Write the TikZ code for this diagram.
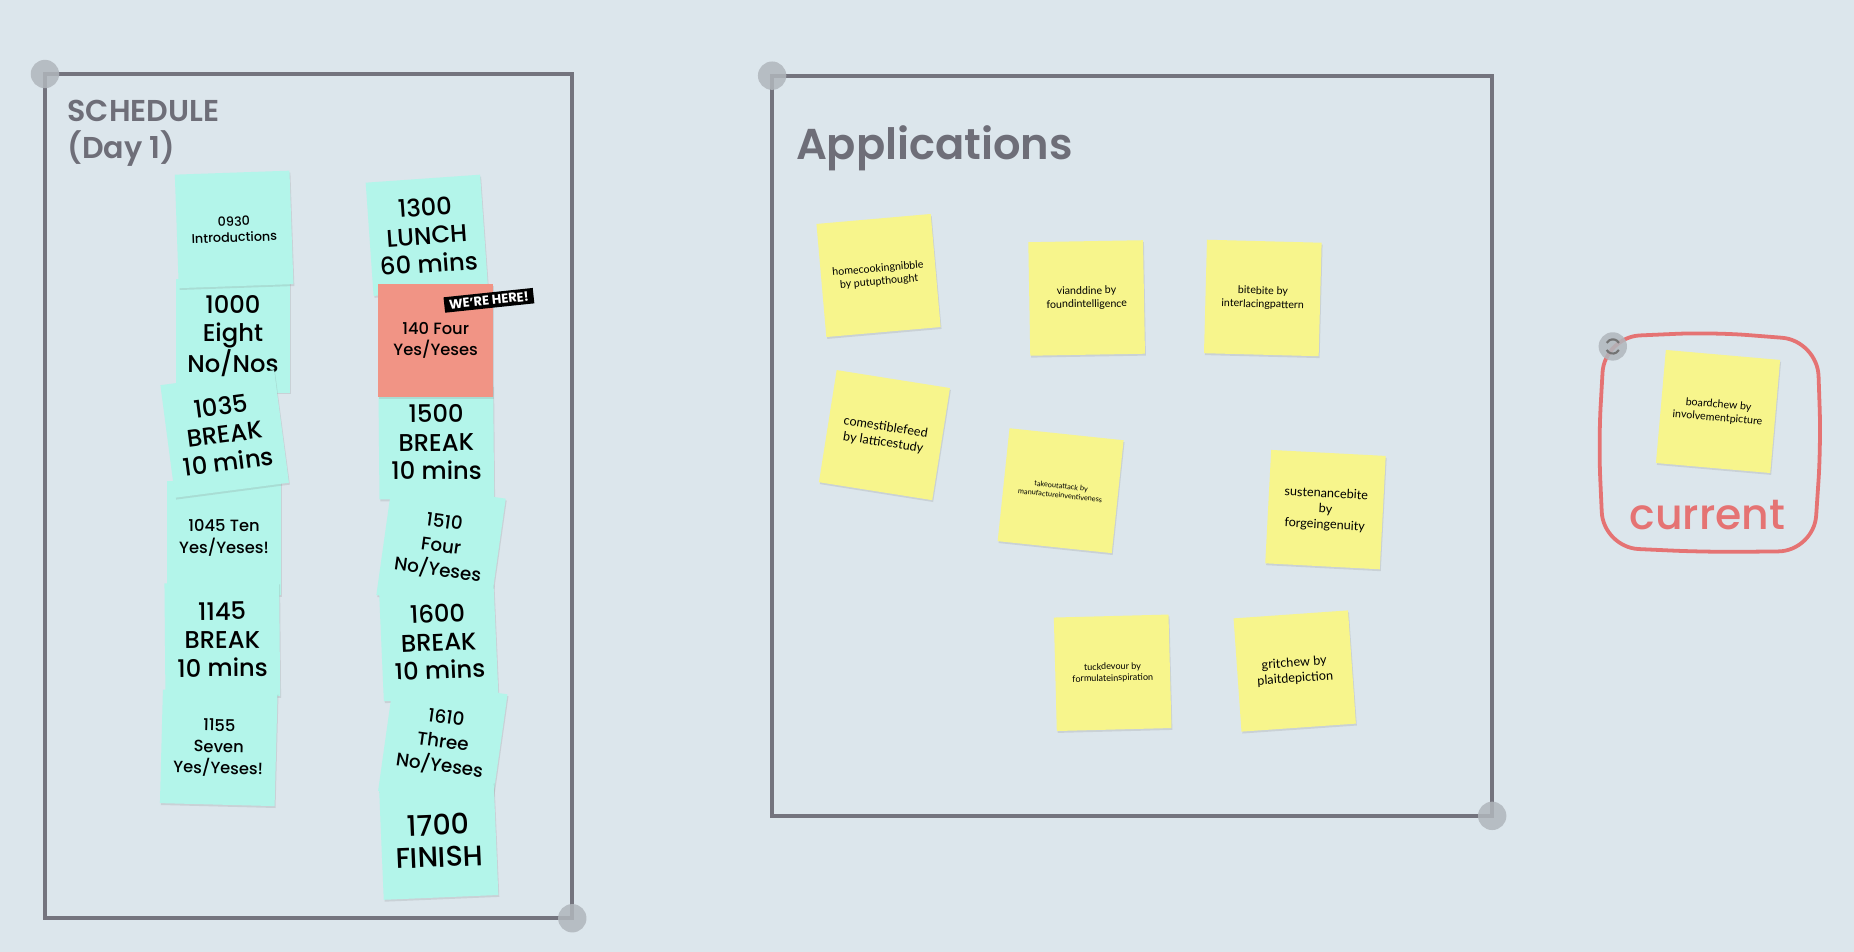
\documentclass[tikz,border=0pt]{standalone}
\usepackage{fontspec}
\setmainfont{Poppins}
\newfontfamily\headfont{Poppins Medium}
\newfontfamily\titlefont{Poppins SemiBold}
\newfontfamily\appfont{Lato}
\usepackage{xcolor}
\usetikzlibrary{shadows}
\definecolor{boardbg}{RGB}{220,230,236}
\definecolor{framegray}{RGB}{116,116,126}
\definecolor{handlegray}{RGB}{176,182,188}
\definecolor{titlegray}{RGB}{110,110,120}
\definecolor{mint}{RGB}{179,245,234}
\definecolor{salmon}{RGB}{241,148,133}
\definecolor{sticky}{RGB}{247,245,140}
\definecolor{currentred}{RGB}{229,115,115}

\begin{document}
\begin{tikzpicture}[x=1pt, y=-1pt,
  card/.style={minimum width=97pt, minimum height=96pt, inner sep=0pt, align=center,
    drop shadow={shadow xshift=0.8pt, shadow yshift=-1.6pt, opacity=0.2}},
  sched/.style={card, fill=mint},
  app/.style={card, fill=sticky},
  bigtxt/.style={font=\headfont\fontsize{20.5}{24}\selectfont},
  hugetxt/.style={font=\headfont\fontsize{24}{27}\selectfont},
  tilttxt/.style={font=\headfont\fontsize{15.5}{20.5}\selectfont},
  midtxt/.style={font=\headfont\fontsize{13.8}{18}\selectfont},
  smalltxt/.style={font=\headfont\fontsize{10.8}{13.5}\selectfont},
  appsmall/.style={font=\appfont\fontsize{9}{11.2}\selectfont},
  appmid/.style={font=\appfont\fontsize{10.7}{13.2}\selectfont},
  apptiny/.style={font=\appfont\fontsize{6.2}{7.8}\selectfont},
  appseven/.style={font=\appfont\fontsize{7.7}{9.6}\selectfont},
  handle/.style={fill=handlegray, opacity=0.85}]

  % Board
  \fill[boardbg] (0,0) rectangle (1568,805);
  \useasboundingbox (0,0) rectangle (1568,805);

  % Frames
  \draw[framegray, line width=3.2pt] (38,62.6) rectangle (484,776.6);
  \draw[framegray, line width=3.2pt] (653,64) rectangle (1262,690);
  \fill[handle] (38,62.6) circle[radius=12pt];
  \fill[handle] (484,776.6) circle[radius=12pt];
  \fill[handle] (653,64) circle[radius=12pt];
  \fill[handle] (1262,690) circle[radius=12pt];

  % Titles
  \node[anchor=base west, inner sep=0pt, text=titlegray, font=\titlefont\fontsize{25.5}{31}\selectfont]
    (schedtitle) at (57,103) {SCHEDULE};
  \node[anchor=base west, inner sep=0pt, text=titlegray, font=\titlefont\fontsize{25.5}{31}\selectfont]
    (daytitle) at (57,134) {(Day 1)};
  \node[anchor=base west, inner sep=0pt, text=titlegray, font=\titlefont\fontsize{36.5}{44}\selectfont]
    (apptitle) at (673,135) {Applications};

  % Schedule, left column
  \node[sched, bigtxt] (n1000) at (197,284) {1000\\Eight\\No/Nos};
  \node[sched, smalltxt, rotate=2] (n0930) at (198,194) {0930\\Introductions};
  \node[sched, midtxt] (n1045) at (189.5,455) {1045 Ten\\Yes/Yeses!};
  \node[sched, bigtxt, rotate=7.5] (n1035) at (190,367) {1035\\BREAK\\10 mins};
  \node[sched, bigtxt, rotate=0.5] (n1145) at (188,541) {1145\\BREAK\\10 mins};
  \node[sched, midtxt, rotate=-1.5] (n1155) at (185,632.5) {1155\\Seven\\Yes/Yeses!};

  % Schedule, right column
  \node[sched, bigtxt, rotate=4] (n1300) at (361,199) {1300\\LUNCH\\60 mins};
  \node[sched, bigtxt, rotate=0.5] (n1500) at (369,374) {1500\\BREAK\\10 mins};
  \node[card, fill=salmon, midtxt] (n1400) at (368.5,288) {140 Four\\Yes/Yeses};
  \node[fill=black, text=white, inner xsep=4pt, inner ysep=2.5pt, rotate=6,
    font=\bfseries\fontsize{11}{12}\selectfont] (here) at (413.5,254) {WE'RE HERE!};
  \node[sched, tilttxt, rotate=-8] (n1510) at (373,462.5) {1510\\Four\\No/Yeses};
  \node[sched, bigtxt, rotate=2.5] (n1600) at (371,543) {1600\\BREAK\\10 mins};
  \node[sched, tilttxt, rotate=-8] (n1610) at (374.5,628) {1610\\Three\\No/Yeses};
  \node[sched, hugetxt, rotate=2.4] (n1700) at (371,711) {1700\\FINISH};

  % Applications
  \node[app, appsmall, rotate=5] (homecook) at (743,233) {homecookingnibble\\by putupthought};
  \node[app, appsmall, rotate=1] (vianddine) at (919,252) {vianddine by\\foundintelligence};
  \node[app, appsmall, rotate=-1.5] (bitebite) at (1068,252) {bitebite by\\interlacingpattern};
  \node[app, appmid, rotate=-9] (comestible) at (748,368) {comestiblefeed\\by latticestudy};
  \node[app, apptiny, rotate=-6] (takeout) at (897,415) {takeoutattack by\\manufactureinventiveness};
  \node[app, appmid, rotate=-3] (sustenance) at (1121,431) {sustenancebite\\by\\forgeingenuity};
  \node[app, appseven, rotate=1.5] (tuckdevour) at (941,569) {tuckdevour by\\formulateinspiration};
  \node[app, appmid, rotate=4] (gritchew) at (1095,567.5) {gritchew by\\plaitdepiction};

  % Current
  \draw[currentred, line width=3.2pt, rounded corners=30pt]
    (1357,285) -- (1448,281) -- (1537,288) -- (1540,376) -- (1534,466)
    -- (1444,467) -- (1356,463) -- (1352,374) -- cycle;
  \node[app, appsmall, rotate=-5] (boardchew) at (1453,348) {boardchew by\\involvementpicture};
  \node[anchor=base, inner sep=0pt, text=currentred, font=\headfont\fontsize{36}{40}\selectfont]
    (current) at (1444,448) {current};
  \fill[handle] (1364,293) circle[radius=12pt];
  \draw[black!55, line width=1.8pt] (1364,293) ++(30:6pt) arc[start angle=30, end angle=150, radius=6pt];
  \draw[black!55, line width=1.8pt] (1364,293) ++(210:6pt) arc[start angle=210, end angle=330, radius=6pt];

\end{tikzpicture}
\end{document}
